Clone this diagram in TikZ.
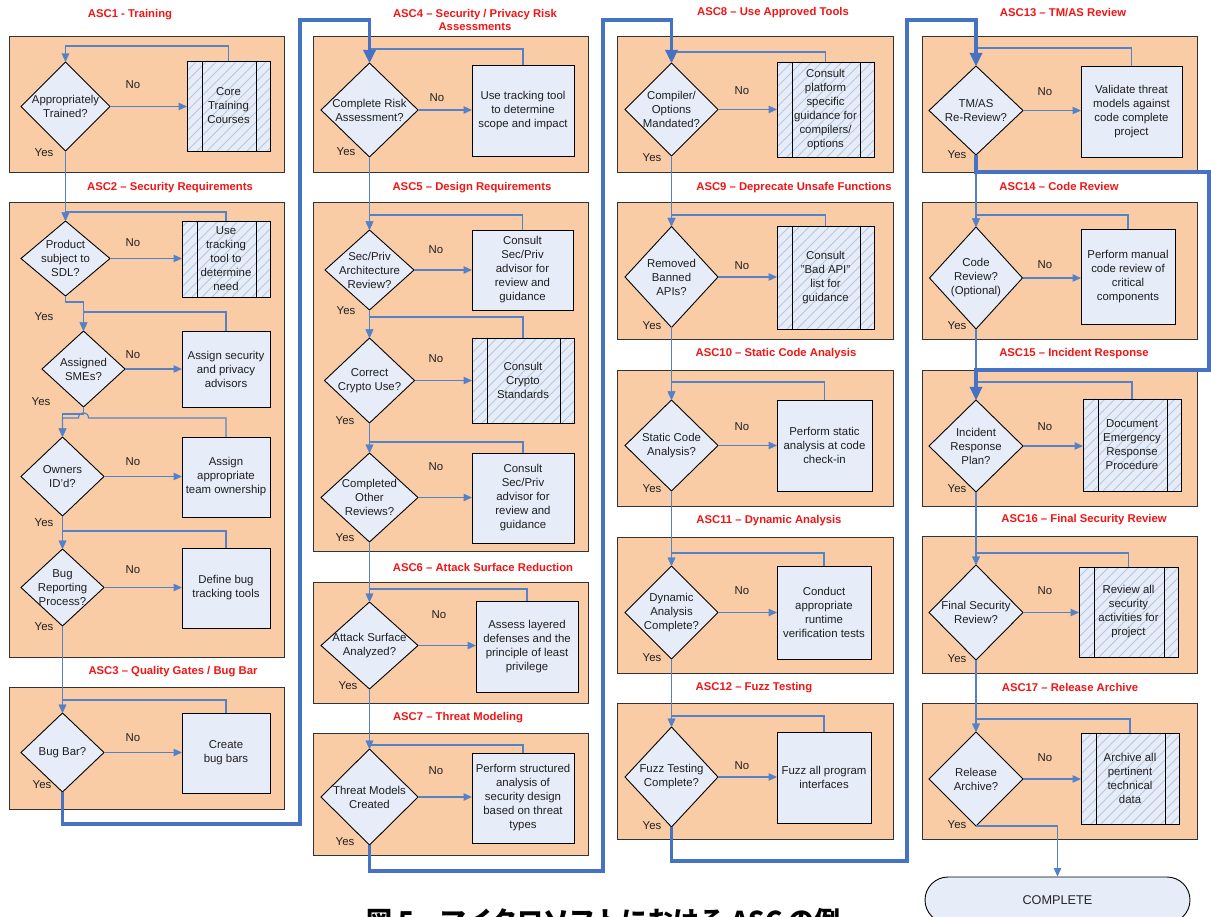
\documentclass[tikz,border=0pt]{standalone}
\usepackage{fontspec}
\setmainfont{Liberation Sans}
\newfontfamily\cjk{Noto Sans CJK JP}
\usetikzlibrary{shapes.geometric,arrows.meta,fit}

\definecolor{peach}{RGB}{250,204,166}
\definecolor{paleblue}{RGB}{230,236,248}
\definecolor{hatchblue}{RGB}{182,199,226}
\definecolor{flowblue}{RGB}{84,130,200}
\definecolor{trunkblue}{RGB}{70,114,196}
\definecolor{ascred}{RGB}{240,22,22}

\tikzset{
  sectbox/.style={inner sep=0pt, outer sep=0pt, draw=black!80, line width=0.9pt, fill=peach},
  dia/.style={diamond, inner sep=0pt, outer sep=0pt, draw=black, line width=0.9pt, fill=paleblue},
  procbox/.style={rectangle, inner sep=0pt, outer sep=0pt, draw=black, line width=0.9pt, fill=paleblue},
  hatchbox/.style={procbox, path picture={
      \foreach \k in {-14,...,12}{
        \draw[hatchblue, line width=0.9pt]
          ([xshift=\k*10pt]path picture bounding box.south west) -- ++(130pt,130pt);
      }
      \draw[black, line width=0.9pt]
        ([xshift=15pt]path picture bounding box.south west) -- ([xshift=15pt]path picture bounding box.north west);
      \draw[black, line width=0.9pt]
        ([xshift=-14pt]path picture bounding box.south east) -- ([xshift=-14pt]path picture bounding box.north east);
  }},
  endbox/.style={rectangle, rounded corners=23pt, draw=black, line width=0.9pt, fill=paleblue,
    minimum width=265pt, minimum height=46pt, inner sep=0pt, font=\fontsize{12.7}{15}\selectfont, text=black!85},
  txt/.style={font=\fontsize{11.4}{14}\selectfont, text=black!88, align=center, inner sep=0pt},
  head/.style={font=\fontsize{11.3}{13}\selectfont\bfseries, text=ascred, align=center, inner sep=0pt},
  yn/.style={font=\fontsize{11.4}{13}\selectfont, text=black!88, inner sep=0pt},
  link/.style={draw=flowblue, line width=1.2pt},
  arr/.style={-{Triangle[length=8.5pt,width=7.5pt]}},
  trunk/.style={draw=trunkblue, line width=3.3pt, -{Triangle[length=13pt,width=12pt]}},
}

% decision diamond: name, cx, cy, width, height, question
\newcommand{\decnode}[6]{%
  \node[dia, minimum width=#4pt, minimum height=#5pt] (#1) at (#2,#3) {};
  \node[txt] (#1t) at (#1.center) {#6};}
% action box: style, name, x1, y1, x2, y2, text
\newcommand{\actnode}[7]{%
  \node[#1, fit={(#3,#4) (#5,#6)}] (#2) {};
  \node[txt] (#2t) at (#2.center) {#7};}
% loop from an action back to its decision, running at height #3
\newcommand{\backloop}[3]{%
  \draw[link, arr] (#1.north) -- (#1.north |- 0,#3) -- (#2.north |- 0,#3) -- (#2.north);}
% "No" branch from a decision to its action
\newcommand{\nobranch}[2]{%
  \draw[link, arr] (#1.east) -- (#1.east -| #2.west);}

\begin{document}
\begin{tikzpicture}[x=1pt,y=-1pt]
\useasboundingbox (0,0) rectangle (1211,917);

% ---------- stage panels ----------
\node[sectbox, fit={(9,36) (284,172)}] (s1) {};
\node[sectbox, fit={(9,202) (284,657)}] (s2) {};
\node[sectbox, fit={(9,687) (284,809)}] (s3) {};
\node[sectbox, fit={(313,36) (588,172)}] (s4) {};
\node[sectbox, fit={(313,202) (588,551)}] (s5) {};
\node[sectbox, fit={(313,582) (588,703)}] (s6) {};
\node[sectbox, fit={(313,733) (588,855)}] (s7) {};
\node[sectbox, fit={(617,36) (893,172)}] (s8) {};
\node[sectbox, fit={(617,202) (893,339)}] (s9) {};
\node[sectbox, fit={(617,370) (893,506)}] (s10) {};
\node[sectbox, fit={(617,537) (893,673)}] (s11) {};
\node[sectbox, fit={(617,703) (893,839)}] (s12) {};
\node[sectbox, fit={(922,36) (1197,172)}] (s13) {};
\node[sectbox, fit={(922,202) (1197,339)}] (s14) {};
\node[sectbox, fit={(922,370) (1197,506)}] (s15) {};
\node[sectbox, fit={(922,536) (1197,673)}] (s16) {};
\node[sectbox, fit={(922,703) (1197,839)}] (s17) {};

% ---------- stage headings ----------
\node[head] (h1) at (130,15) {ASC1 - Training};
\node[head] (h2) at (170,188) {ASC2 – Security Requirements};
\node[head] (h3) at (173,672) {ASC3 – Quality Gates / Bug Bar};
\node[head] (h4) at (475,19.5) {ASC4 – Security / Privacy Risk\\Assessments};
\node[head] (h5) at (472,188) {ASC5 – Design Requirements};
\node[head] (h6) at (483,567) {ASC6 – Attack Surface Reduction};
\node[head] (h7) at (458,718) {ASC7 – Threat Modeling};
\node[head] (h8) at (773,13) {ASC8 – Use Approved Tools};
\node[head] (h9) at (794,188) {ASC9 – Deprecate Unsafe Functions};
\node[head] (h10) at (776,354) {ASC10 – Static Code Analysis};
\node[head] (h11) at (769,521) {ASC11 – Dynamic Analysis};
\node[head] (h12) at (754,688) {ASC12 – Fuzz Testing};
\node[head] (h13) at (1063,13) {ASC13 – TM/AS Review};
\node[head] (h14) at (1059,186) {ASC14 – Code Review};
\node[head] (h15) at (1074,354) {ASC15 – Incident Response};
\node[head] (h16) at (1084,520) {ASC16 – Final Security Review};
\node[head] (h17) at (1070,687) {ASC17 – Release Archive};

% ---------- decisions ----------
\decnode{d1}{65.5}{106.5}{89}{89}{Appropriately\\Trained?}
\decnode{d2}{65.5}{258.5}{89}{75}{Product\\subject to\\SDL?}
\decnode{d3}{83.5}{369}{83}{76}{Assigned\\SMEs?}
\decnode{d4}{62.5}{476.5}{83}{79}{Owners\\ID’d?}
\decnode{d5}{62.5}{587.5}{83}{77}{Bug\\Reporting\\Process?}
\decnode{d6}{62.5}{752.5}{83}{79}{Bug Bar?}
\decnode{d7}{369.5}{110}{97}{94}{Complete Risk\\Assessment?}
\decnode{d8}{369.5}{270}{89}{80}{Sec/Priv\\Architecture\\Review?}
\decnode{d9}{369.5}{380.5}{90}{85}{Correct\\Crypto Use?}
\decnode{d10}{369.5}{497.5}{97}{89}{Completed\\Other\\Reviews?}
\decnode{d11}{369.5}{645.5}{97}{87}{Attack Surface\\Analyzed?}
\decnode{d12}{369.5}{797}{97}{96}{Threat Models\\Created}
\decnode{d13}{671.5}{109.5}{93}{93}{Compiler/\\Options\\Mandated?}
\decnode{d14}{671.5}{277}{93}{101}{Removed\\Banned\\APIs?}
\decnode{d15}{671.5}{445.5}{93}{91}{Static Code\\Analysis?}
\decnode{d16}{671.5}{612.5}{93}{93}{Dynamic\\Analysis\\Complete?}
\decnode{d17}{671.5}{777}{93}{100}{Fuzz Testing\\Complete?}
\decnode{d18}{976}{110.5}{94}{89}{TM/AS\\Re-Review?}
\decnode{d19}{976}{278}{93}{102}{Code\\Review?\\(Optional)}
\decnode{d20}{976}{446}{94}{92}{Incident\\Response\\Plan?}
\decnode{d21}{976}{612.5}{94}{95}{Final Security\\Review?}
\decnode{d22}{976}{779}{94}{94}{Release\\Archive?}

% ---------- actions ----------
\actnode{hatchbox}{p1}{187}{61}{270}{151}{Core\\Training\\Courses}
\actnode{hatchbox}{p2}{182}{221}{270}{297}{Use\\tracking\\tool to\\determine\\need}
\actnode{procbox}{p3}{182}{331}{270}{407}{Assign security\\and privacy\\advisors}
\actnode{procbox}{p4}{182}{437}{270}{517}{Assign\\appropriate\\team ownership}
\actnode{procbox}{p5}{182}{548}{270}{628}{Define bug\\tracking tools}
\actnode{procbox}{p6}{182}{713}{270}{793}{Create\\bug bars}
\actnode{procbox}{p7}{472}{65}{574}{156}{Use tracking tool\\to determine\\scope and impact}
\actnode{procbox}{p8}{472}{230}{573}{310}{Consult\\Sec/Priv\\advisor for\\review and\\guidance}
\actnode{hatchbox}{p9}{472}{338}{574}{423}{Consult\\Crypto\\Standards}
\actnode{procbox}{p10}{472}{453}{574}{543}{Consult\\Sec/Priv\\advisor for\\review and\\guidance}
\actnode{procbox}{p11}{476}{601}{578}{692}{Assess layered\\defenses and the\\principle of least\\privilege}
\actnode{procbox}{p12}{472}{753}{574}{843}{Perform structured\\analysis of\\security design\\based on threat\\types}
\actnode{hatchbox}{p13}{777}{62}{874}{157}{Consult\\platform\\specific\\guidance for\\compilers/\\options}
\actnode{hatchbox}{p14}{777}{226}{874}{329}{Consult\\"Bad API"\\list for\\guidance}
\actnode{procbox}{p15}{777}{400}{872}{491}{Perform static\\analysis at code\\check-in}
\actnode{procbox}{p16}{777}{566}{871}{659}{Conduct\\appropriate\\runtime\\verification tests}
\actnode{procbox}{p17}{777}{732}{871}{823}{Fuzz all program\\interfaces}
\actnode{procbox}{p18}{1081}{66}{1182}{157}{Validate threat\\models against\\code complete\\project}
\actnode{procbox}{p19}{1081}{229}{1175}{324}{Perform manual\\code review of\\critical\\components}
\actnode{hatchbox}{p20}{1083}{399}{1181}{491}{Document\\Emergency\\Response\\Procedure}
\actnode{hatchbox}{p21}{1079}{567}{1178}{657}{Review all\\security\\activities for\\project}
\actnode{hatchbox}{p22}{1081}{733}{1179}{824}{Archive all\\pertinent\\technical\\data}

\node[endbox] (done) at (1057.5,900) {COMPLETE};

% ---------- "No" branches ----------
\foreach \i in {1,...,22}{\nobranch{d\i}{p\i}}

% ---------- loops back from each action ----------
\backloop{p1}{d1}{46}
\backloop{p2}{d2}{212}
\backloop{p3}{d3}{312}
\draw[link, arr] (p4.north) -- (p4.north |- 0,418) -- (88.5,418)
  .. controls (88.5,411) and (78.5,411) .. (78.5,418) -- (d4.north |- 0,418) -- (d4.north);
\backloop{p5}{d5}{531}
\backloop{p6}{d6}{700}
\backloop{p7}{d7}{49}
\backloop{p8}{d8}{215}
\backloop{p9}{d9}{317}
\backloop{p10}{d10}{442}
\backloop{p11}{d11}{589}
\backloop{p12}{d12}{745}
\backloop{p13}{d13}{52}
\backloop{p14}{d14}{215}
\backloop{p15}{d15}{382}
\backloop{p16}{d16}{553}
\backloop{p17}{d17}{716}
\backloop{p18}{d18}{48}
\backloop{p19}{d19}{215}
\backloop{p20}{d20}{382}
\backloop{p21}{d21}{553}
\backloop{p22}{d22}{719}

% ---------- "Yes" paths inside each column ----------
\draw[link, arr] (d1.south) -- (d2.north);
\draw[link, arr] (d2.south) |- (d3.north |- 0,302) -- (d3.north);
\draw[link, arr] (d3.south) -- (d3.south |- 0,414) -| (d4.north);
\draw[link, arr] (d4.south) -- (d5.north);
\draw[link, arr] (d5.south) -- (d6.north);
\foreach \a/\b in {7/8,8/9,9/10,10/11,11/12,13/14,14/15,15/16,16/17,18/19,19/20,20/21,21/22}{
  \draw[link, arr] (d\a.south) -- (d\b.north);
}
\draw[link, arr] (d22.south) -| (done.north);

% ---------- column-to-column trunks ----------
\draw[trunk] (d6.south) -- (d6.south |- 0,824) -| (300,20) -- (d7.north |- 0,20) -- (d7.north);
\draw[trunk] (d12.south) -- (d12.south |- 0,871) -| (603,20) -- (d13.north |- 0,20) -- (d13.north);
\draw[trunk] (d17.south) -- (d17.south |- 0,861) -| (907,20) -- (d18.north |- 0,20) -- (d18.north);
\draw[trunk] (d18.south) -- (d18.south |- 0,172) -| (1209,370) -- (d20.north |- 0,370) -- (d20.north);

% ---------- Yes / No labels ----------
\foreach \x/\y [count=\i] in {133/85,133/243,133/355,133/462,133/570,133/738,437/98,436/250,436/359,436/467,439/615,436/771,742/91,742/266,742/427,742/591,742/766,1045/92,1045/265,1045/427,1045/591,1045/758}{
  \node[yn] (no\i) at (\x,\y) {No};
}
\foreach \x/\y [count=\i] in {44/153,44/317,41/402,44/523,44/627,42/785,346/152,346/311,345/421,345/538,348/686,345/842,652/158,652/326,652/489,652/658,652/826,957/155,957/326,957/489,957/659,957/825}{
  \node[yn] (yes\i) at (\x,\y) {Yes};
}

% ---------- caption ----------
\node[anchor=base west, inner sep=0pt, font=\cjk\fontsize{26}{30}\selectfont\bfseries, text=black] (cap)
  at (366,930) {図 5 – マイクロソフトにおける ASC の例};
\end{tikzpicture}
\end{document}
